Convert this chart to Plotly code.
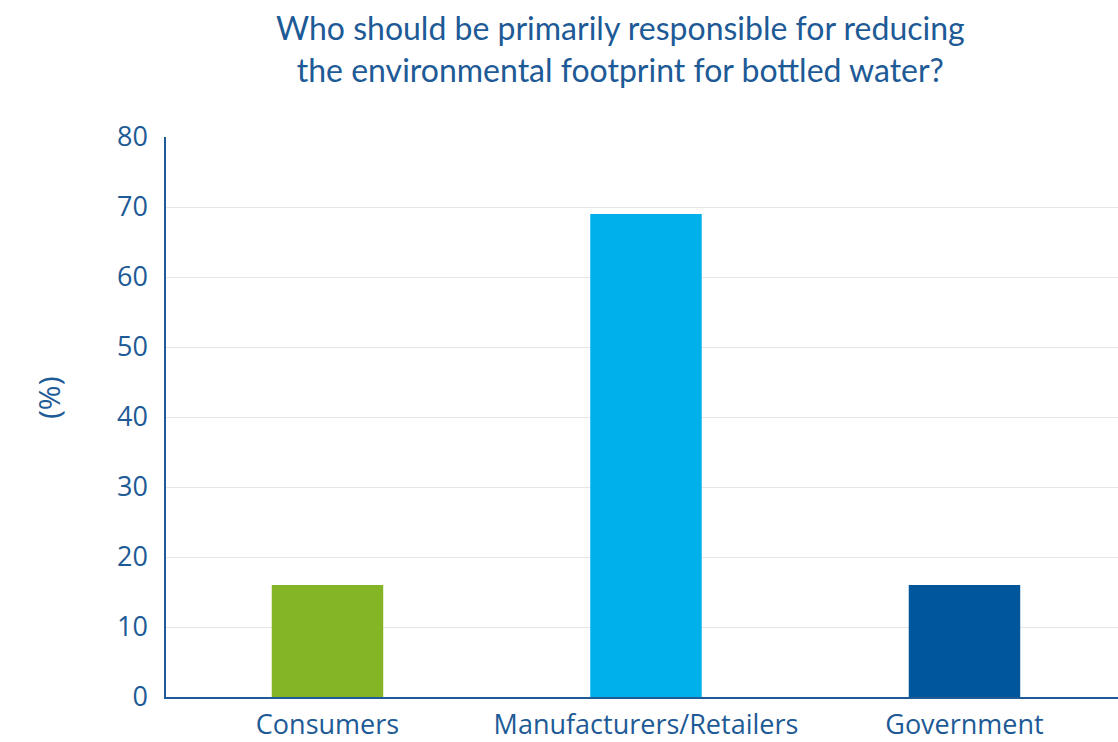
import plotly.graph_objects as go

categories = ["Consumers", "Manufacturers/Retailers", "Government"]
shares = [16, 69, 16]
bar_colors = ["#84b527", "#00b0ea", "#00569b"]
y_ticks = [0, 10, 20, 30, 40, 50, 60, 70, 80]

text_color = "#1d5a96"
tick_family = "Open Sans, sans-serif"
title_family = "Lato, sans-serif"

fig = go.Figure(
    go.Bar(
        x=categories,
        y=shares,
        marker=dict(color=bar_colors, line=dict(width=0)),
        width=0.35,
        hoverinfo="x+y",
    )
)

fig.update_layout(
    width=1118,
    height=742,
    margin=dict(l=166, r=0, t=137, b=45),
    paper_bgcolor="white",
    plot_bgcolor="white",
    showlegend=False,
    font=dict(family=tick_family, color=text_color),
    annotations=[
        dict(
            text="Who should be primarily responsible for reducing<br>the environmental footprint for bottled water?",
            xref="paper",
            yref="paper",
            x=(620 - 166) / 952,
            y=1 + (137 - 6) / 560,
            xanchor="center",
            yanchor="top",
            showarrow=False,
            align="center",
            font=dict(family=title_family, size=32, color=text_color),
        ),
        dict(
            text="(%)",
            xref="paper",
            yref="paper",
            x=(48 - 166) / 952,
            y=(697 - 398) / 560,
            xanchor="center",
            yanchor="middle",
            textangle=-90,
            showarrow=False,
            font=dict(family=tick_family, size=30, color=text_color),
        ),
    ],
)

fig.update_xaxes(
    type="category",
    range=[-0.507, 2.482],
    automargin=False,
    showline=True,
    linecolor="#1d5a96",
    linewidth=1.5,
    showgrid=False,
    ticks="outside",
    ticklen=3,
    tickcolor="rgba(0,0,0,0)",
    tickfont=dict(family=tick_family, size=27, color=text_color),
)

fig.update_yaxes(
    range=[0, 80],
    tickvals=y_ticks,
    automargin=False,
    showline=True,
    linecolor="#1d5a96",
    linewidth=1.5,
    showgrid=True,
    gridcolor="#e6e6e6",
    gridwidth=1,
    zeroline=False,
    ticks="outside",
    ticklen=11,
    tickcolor="rgba(0,0,0,0)",
    tickfont=dict(family=tick_family, size=27, color=text_color),
)

fig.write_html("out.html")
